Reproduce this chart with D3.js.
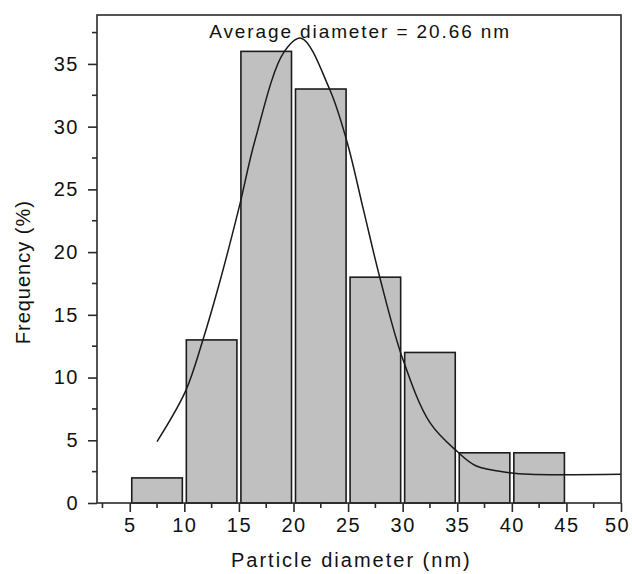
<!DOCTYPE html>
<html>
<head>
<meta charset="utf-8">
<script src="https://cdn.jsdelivr.net/npm/d3@7"></script>
<style>
    body { margin: 0; background: #fff; }
    text { font-family: "Liberation Sans", Arial, sans-serif; fill: #111; }
</style>
</head>
<body>
<div id="histogram-chart"></div>
<script>
"use strict";

// histogram bins (nm) and frequency (%)
const binStarts = [5, 10, 15, 20, 25, 30, 35, 40];
const binWidth = 5;
const frequency = [2, 13, 36, 33, 18, 12, 4, 4];

// fitted curve
const fitX = [7.5, 10.1, 11.7, 13.3, 15, 16.5, 19.1, 20.7, 23.3, 24.9, 26.4, 27.9, 30, 32.5, 35, 36.7, 39.8, 41.6, 50];
const fitY = [4.9, 8.9, 13.0, 17.8, 23.5, 29.0, 35.9, 37.05, 33.0, 28.8, 23.4, 18.0, 11.5, 6.4, 4.1, 2.97, 2.42, 2.29, 2.29];

// axis ticks
const xTicks = [5, 10, 15, 20, 25, 30, 35, 40, 45, 50];
const yTicks = [0, 5, 10, 15, 20, 25, 30, 35];

const titleText = "Average diameter = 20.66 nm";
const xLabel = "Particle diameter (nm)";
const yLabel = "Frequency (%)";

const svgWidth = 632,
    svgHeight = 574;

const margin = { top: 15, right: 11, bottom: 71, left: 97 },
    areaWidth = svgWidth - margin.left - margin.right,
    areaHeight = svgHeight - margin.top - margin.bottom;

const svg = d3.select("#histogram-chart").append("svg")
    .attr("width", svgWidth)
    .attr("height", svgHeight);

const area = svg.append("g")
    .attr("transform", `translate(${margin.left},${margin.top})`);

// scales
const x = d3.scaleLinear().domain([2, 50]).range([0, areaWidth]);
const y = d3.scaleLinear().domain([0, 38.9]).range([areaHeight, 0]);

const bins = binStarts.map((s, i) => ({ x0: s, x1: s + binWidth, value: frequency[i] }));

// bars
area.append("g")
    .selectAll("rect")
    .data(bins)
    .enter()
    .append("rect")
    .attr("x", d => x(d.x0) + 2)
    .attr("y", d => y(d.value))
    .attr("width", d => x(d.x1) - x(d.x0) - 4)
    .attr("height", d => y(0) - y(d.value))
    .attr("fill", "#c0c0c0")
    .attr("stroke", "#1c1c1c")
    .attr("stroke-width", 1.6);

// fit curve
const line = d3.line()
    .x(d => x(d[0]))
    .y(d => y(d[1]))
    .curve(d3.curveCatmullRom);

area.append("path")
    .datum(fitX.map((v, i) => [v, fitY[i]]))
    .attr("d", line)
    .attr("fill", "none")
    .attr("stroke", "#1a1a1a")
    .attr("stroke-width", 1.5);

// frame
area.append("rect")
    .attr("width", areaWidth)
    .attr("height", areaHeight)
    .attr("fill", "none")
    .attr("stroke", "#2a2a2a")
    .attr("stroke-width", 1.6);

// minor ticks
const xMinor = d3.range(2.5, 50, 5);
const yMinor = d3.range(2.5, 38.9, 5);

const xAxis = area.append("g")
    .attr("transform", `translate(0,${areaHeight})`);
xAxis.selectAll(".minor")
    .data(xMinor)
    .enter().append("line")
    .attr("x1", d => x(d)).attr("x2", d => x(d))
    .attr("y1", 0).attr("y2", 5);
xAxis.call(d3.axisBottom(x).tickValues(xTicks).tickSize(9).tickPadding(6).tickSizeOuter(0))
    .call(g => g.select(".domain").remove());

const yAxis = area.append("g");
yAxis.selectAll(".minor")
    .data(yMinor)
    .enter().append("line")
    .attr("x1", 0).attr("x2", -5)
    .attr("y1", d => y(d)).attr("y2", d => y(d));
yAxis.call(d3.axisLeft(y).tickValues(yTicks).tickSize(9).tickPadding(9).tickSizeOuter(0))
    .call(g => g.select(".domain").remove());

svg.selectAll("line")
    .filter(function () { return !this.getAttribute("stroke") || this.getAttribute("stroke") === "currentColor"; })
    .attr("stroke", "#2a2a2a")
    .attr("stroke-width", 1.6);

svg.selectAll(".tick text")
    .style("font-size", "20px")
    .style("letter-spacing", "1.5px")
    .attr("fill", "#111");

// the last x label sits right on the page edge, pull it in a bit
xAxis.selectAll(".tick text")
    .filter(d => d === 50)
    .attr("dx", -4);

// labels
area.append("text")
    .attr("x", x(26.1))
    .attr("y", 23)
    .attr("text-anchor", "middle")
    .style("font-size", "19px")
    .style("letter-spacing", "1.9px")
    .text(titleText);

svg.append("text")
    .attr("x", margin.left + x(25.3))
    .attr("y", 567)
    .attr("text-anchor", "middle")
    .style("font-size", "20px")
    .style("letter-spacing", "2px")
    .text(xLabel);

svg.append("text")
    .attr("transform", `translate(30,${margin.top + y(18.4)}) rotate(-90)`)
    .attr("text-anchor", "middle")
    .style("font-size", "20px")
    .style("letter-spacing", "1px")
    .text(yLabel);
</script>
</body>
</html>
